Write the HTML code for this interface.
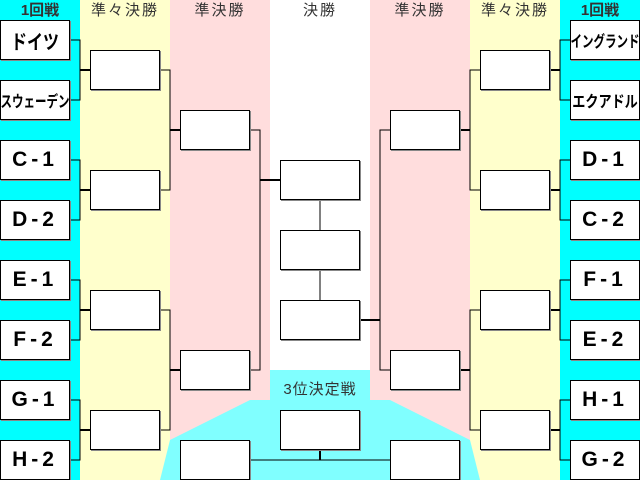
<!DOCTYPE html>
<html><head><meta charset="utf-8"><style>
body{margin:0;width:640px;height:480px;position:relative;overflow:hidden;background:#fff;font-family:"Liberation Sans","Noto Sans CJK JP",sans-serif}
.bg{position:absolute;top:0;height:480px}
.b{position:absolute;background:#fff;border:1px solid #000;box-shadow:1px 1px 0 #888;box-sizing:border-box;display:flex;align-items:center;justify-content:center;font-weight:bold;color:#000;white-space:nowrap}
.e{width:70px;height:40px;font-size:21px;letter-spacing:4px}
.e span{display:inline-block;font-size:16px;letter-spacing:0;transform:scaleX(.72)}
.h{position:absolute;top:0;height:22px;line-height:22px;text-align:center;font-size:15px;color:#333;letter-spacing:2px}
</style></head><body>
<div class="bg" style="left:0;width:80px;background:#00ffff"></div>
<div class="bg" style="left:80px;width:90px;background:#ffffcc"></div>
<div class="bg" style="left:170px;width:100px;background:#ffdddd"></div>
<div class="bg" style="left:370px;width:100px;background:#ffdddd"></div>
<div class="bg" style="left:470px;width:90px;background:#ffffcc"></div>
<div class="bg" style="left:560px;width:80px;background:#00ffff"></div>
<svg style="position:absolute;left:0;top:0" width="640" height="480">
<polygon points="270,370 370,370 370,400 390,400 470,440 480,480 160,480 170,440 250,400 270,400" fill="#80ffff"/>
<g stroke="#000" stroke-width="1" fill="none">
<path d="M70,40H80V100H70M70,160H80V220H70M70,280H80V340H70M70,400H80V460H70"/>
<path d="M570,40H560V100H570M570,160H560V220H570M570,280H560V340H570M570,400H560V460H570"/>
<path d="M160,70H170V190H160M160,310H170V430H160"/>
<path d="M480,70H470V190H480M480,310H470V430H480"/>
<path d="M250,130H260V370H250M390,130H380V370H390"/>
<path d="M320,200V230M320,270V300"/>
<path d="M250,460H390"/>
</g>
<g stroke="#000" stroke-width="2">
<path d="M80,70H90M80,190H90M80,310H90M80,430H90"/>
<path d="M560,70H550M560,190H550M560,310H550M560,430H550"/>
<path d="M170,130H180M170,370H180M470,130H460M470,370H460"/>
<path d="M260,180H280M380,320H360M320,450V460"/>
</g>
</svg>
<div class="h" style="left:0;width:80px;font-weight:bold;letter-spacing:0">1回戦</div>
<div class="h" style="left:80px;width:90px">準々決勝</div>
<div class="h" style="left:170px;width:100px">準決勝</div>
<div class="h" style="left:270px;width:100px">決勝</div>
<div class="h" style="left:370px;width:100px">準決勝</div>
<div class="h" style="left:470px;width:90px">準々決勝</div>
<div class="h" style="left:560px;width:80px;font-weight:bold;letter-spacing:0">1回戦</div>
<div class="h" style="left:270px;width:100px;top:379px;letter-spacing:1px">3位決定戦</div>

<div class="b e" style="left:0;top:20px"><span style="font-size:20px;transform:scaleX(.8)">ドイツ</span></div>
<div class="b e" style="left:0;top:80px"><span>スウェーデン</span></div>
<div class="b e" style="left:0;top:140px">C-1</div>
<div class="b e" style="left:0;top:200px">D-2</div>
<div class="b e" style="left:0;top:260px">E-1</div>
<div class="b e" style="left:0;top:320px">F-2</div>
<div class="b e" style="left:0;top:380px">G-1</div>
<div class="b e" style="left:0;top:440px">H-2</div>
<div class="b e" style="left:570px;top:20px"><span>イングランド</span></div>
<div class="b e" style="left:570px;top:80px"><span style="transform:scaleX(.82)">エクアドル</span></div>
<div class="b e" style="left:570px;top:140px">D-1</div>
<div class="b e" style="left:570px;top:200px">C-2</div>
<div class="b e" style="left:570px;top:260px">F-1</div>
<div class="b e" style="left:570px;top:320px">E-2</div>
<div class="b e" style="left:570px;top:380px">H-1</div>
<div class="b e" style="left:570px;top:440px">G-2</div>

<div class="b" style="left:90px;top:50px;width:70px;height:40px"></div>
<div class="b" style="left:90px;top:170px;width:70px;height:40px"></div>
<div class="b" style="left:90px;top:290px;width:70px;height:40px"></div>
<div class="b" style="left:90px;top:410px;width:70px;height:40px"></div>
<div class="b" style="left:480px;top:50px;width:70px;height:40px"></div>
<div class="b" style="left:480px;top:170px;width:70px;height:40px"></div>
<div class="b" style="left:480px;top:290px;width:70px;height:40px"></div>
<div class="b" style="left:480px;top:410px;width:70px;height:40px"></div>
<div class="b" style="left:180px;top:110px;width:70px;height:40px"></div>
<div class="b" style="left:180px;top:350px;width:70px;height:40px"></div>
<div class="b" style="left:390px;top:110px;width:70px;height:40px"></div>
<div class="b" style="left:390px;top:350px;width:70px;height:40px"></div>
<div class="b" style="left:280px;top:160px;width:80px;height:40px"></div>
<div class="b" style="left:280px;top:230px;width:80px;height:40px"></div>
<div class="b" style="left:280px;top:300px;width:80px;height:40px"></div>
<div class="b" style="left:280px;top:410px;width:80px;height:40px"></div>
<div class="b" style="left:180px;top:440px;width:70px;height:40px"></div>
<div class="b" style="left:390px;top:440px;width:70px;height:40px"></div>
</body></html>
